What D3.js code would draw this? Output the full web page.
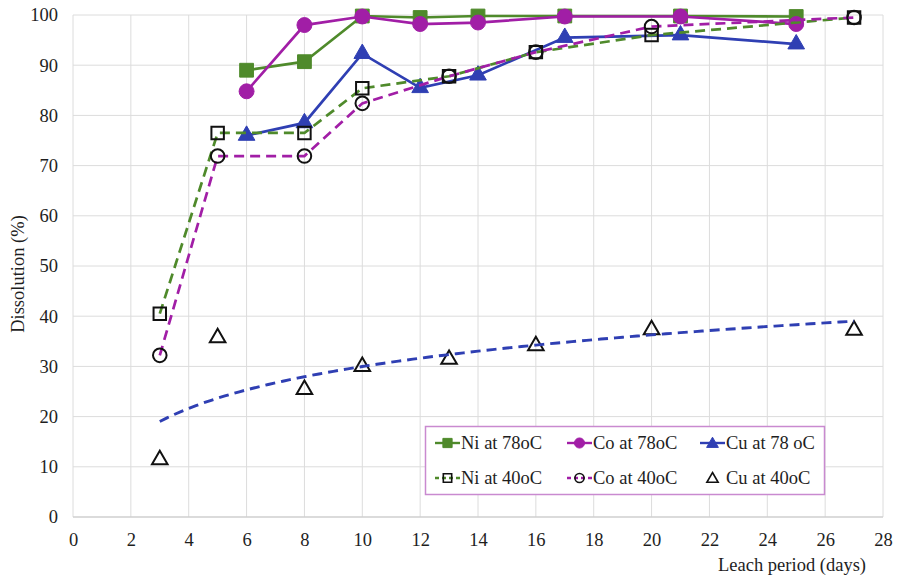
<!DOCTYPE html>
<html>
<head>
<meta charset="utf-8">
<script src="https://cdn.jsdelivr.net/npm/d3@7/dist/d3.min.js"></script>
<style>
  html, body { margin: 0; padding: 0; background: #fff; }
  svg text { font-family: "Liberation Serif", "Times New Roman", serif; fill: #1e1e1e; }
</style>
</head>
<body>
<svg id="chart" width="898" height="577"></svg>
<script>
// Leach period (days) for each series
const daysNi78 = [6, 8, 10, 12, 14, 17, 21, 25];
const daysCo78 = [6, 8, 10, 12, 14, 17, 21, 25];
const daysCu78 = [6, 8, 10, 12, 14, 17, 21, 25];
const days40   = [3, 5, 8, 10, 13, 16, 20, 27];

// Dissolution (%)
const ni78 = [89.0, 90.7, 99.8, 99.5, 99.8, 99.8, 99.8, 99.7];
const co78 = [84.8, 98.0, 99.7, 98.2, 98.5, 99.7, 99.7, 98.2];
const cu78 = [76.0, 78.5, 92.3, 85.5, 88.0, 95.5, 96.0, 94.2];
const ni40 = [40.5, 76.5, 76.5, 85.4, 87.8, 92.6, 96.0, 99.5];
const co40 = [32.2, 71.9, 71.9, 82.4, 87.8, 92.6, 97.7, 99.5];
const cu40 = [11.4, 35.7, 25.4, 30.0, 31.4, 34.1, 37.3, 37.2];

const xTicks = d3.range(0, 29, 2);
const yTicks = d3.range(0, 101, 10);

const seriesNames = ["Ni at 78oC", "Co at 78oC", "Cu at 78 oC", "Ni at 40oC", "Co at 40oC", "Cu at 40oC"];

const GREEN = "#4f8a2b", MAGENTA = "#a11ea6", BLUE = "#2f3fb3";
const FONT = "18.5px";

const svg = d3.select("#chart");
const m = { left: 73, right: 15, top: 15, bottom: 60 };
const W = 898, H = 577;
const x = d3.scaleLinear().domain([0, 28]).range([m.left, W - m.right]);
const y = d3.scaleLinear().domain([0, 100]).range([H - m.bottom, m.top]);

// grid
const grid = svg.append("g");
grid.selectAll("line.v").data(xTicks).join("line")
  .attr("x1", d => x(d)).attr("x2", d => x(d))
  .attr("y1", y(0)).attr("y2", y(100))
  .attr("stroke", "#dcdcdc").attr("stroke-width", 1);
grid.selectAll("line.h").data(yTicks).join("line")
  .attr("x1", x(0)).attr("x2", x(28))
  .attr("y1", d => y(d)).attr("y2", d => y(d))
  .attr("stroke", d => d === 0 ? "#cfcfcf" : "#dcdcdc").attr("stroke-width", d => d === 0 ? 1.5 : 1);

// axes (labels only)
const xAxis = svg.append("g").attr("transform", `translate(0,${y(0)})`)
  .call(d3.axisBottom(x).tickValues(xTicks).tickSize(0).tickPadding(16));
const yAxis = svg.append("g").attr("transform", `translate(${x(0)},0)`)
  .call(d3.axisLeft(y).tickValues(yTicks).tickSize(0).tickPadding(15));
[xAxis, yAxis].forEach(a => {
  a.select(".domain").remove();
  a.selectAll("text").style("font-size", FONT).style("font-family", '"Liberation Serif", serif').attr("fill", "#1e1e1e");
});

svg.append("text")
  .attr("transform", `translate(24,${(y(0) + y(100)) / 2 + 8}) rotate(-90)`)
  .attr("text-anchor", "middle").style("font-size", FONT)
  .text("Dissolution (%)");
svg.append("text")
  .attr("x", 866).attr("y", 571).attr("text-anchor", "end").style("font-size", FONT)
  .text("Leach period (days)");

const pts = (xs, ys) => xs.map((d, i) => [d, ys[i]]);
const line = d3.line().x(d => x(d[0])).y(d => y(d[1]));

const sym = (type, size) => d3.symbol().type(type).size(size)();

function drawLine(data, color, dashed) {
  svg.append("path").datum(data).attr("d", line)
    .attr("fill", "none").attr("stroke", color).attr("stroke-width", 2.7)
    .attr("stroke-dasharray", dashed ? "10,6" : null);
}
function drawMarkers(data, type, size, fill, stroke, sw) {
  svg.append("g").selectAll("path").data(data).join("path")
    .attr("transform", d => `translate(${x(d[0])},${y(d[1])})`)
    .attr("d", sym(type, size))
    .attr("fill", fill).attr("stroke", stroke).attr("stroke-width", sw);
}

// 78 °C series
const dNi78 = pts(daysNi78, ni78), dCo78 = pts(daysCo78, co78), dCu78 = pts(daysCu78, cu78);
drawLine(dNi78, GREEN, false); drawMarkers(dNi78, d3.symbolSquare, 190, GREEN, GREEN, 1);
drawLine(dCo78, MAGENTA, false); drawMarkers(dCo78, d3.symbolCircle, 175, MAGENTA, MAGENTA, 1);
drawLine(dCu78, BLUE, false); drawMarkers(dCu78, d3.symbolTriangle, 120, BLUE, BLUE, 1);

// 40 °C series
const dNi40 = pts(days40, ni40), dCo40 = pts(days40, co40), dCu40 = pts(days40, cu40);
drawLine(dNi40, GREEN, true); drawMarkers(dNi40, d3.symbolSquare, 155, "none", "#111", 2);
drawLine(dCo40, MAGENTA, true); drawMarkers(dCo40, d3.symbolCircle, 145, "none", "#111", 2);
drawMarkers(dCu40, d3.symbolTriangle, 105, "none", "#111", 2);

// logarithmic trendline fitted to Cu at 40 °C
const lx = days40.map(Math.log), mx = d3.mean(lx), my = d3.mean(cu40);
const slope = d3.sum(lx.map((v, i) => (v - mx) * (cu40[i] - my))) / d3.sum(lx.map(v => (v - mx) ** 2));
const icpt = my - slope * mx;
const trend = d3.range(days40[0], days40[days40.length - 1] + 0.001, 0.25).map(t => [t, slope * Math.log(t) + icpt]);
svg.append("path").datum(trend).attr("d", line)
  .attr("fill", "none").attr("stroke", BLUE).attr("stroke-width", 2.9).attr("stroke-dasharray", "10,6");

// legend
const lg = svg.append("g");
lg.append("rect").attr("x", 425.5).attr("y", 426.5).attr("width", 399).attr("height", 68)
  .attr("fill", "#fff").attr("stroke", "#c98ad0").attr("stroke-width", 1.5);
const legendItems = [
  { name: seriesNames[0], color: GREEN, dash: null, type: d3.symbolSquare, size: 85, fill: GREEN, stroke: GREEN, sw: 1 },
  { name: seriesNames[1], color: MAGENTA, dash: null, type: d3.symbolCircle, size: 80, fill: MAGENTA, stroke: MAGENTA, sw: 1 },
  { name: seriesNames[2], color: BLUE, dash: null, type: d3.symbolTriangle, size: 60, fill: BLUE, stroke: BLUE, sw: 1 },
  { name: seriesNames[3], color: GREEN, dash: "4,3", type: d3.symbolSquare, size: 70, fill: "none", stroke: "#111", sw: 1.6 },
  { name: seriesNames[4], color: MAGENTA, dash: "4,3", type: d3.symbolCircle, size: 65, fill: "none", stroke: "#111", sw: 1.6 },
  { name: seriesNames[5], color: null, dash: null, type: d3.symbolTriangle, size: 55, fill: "none", stroke: "#111", sw: 1.6 }
];
const colX = [435, 567, 700];
const rowY = [443, 478];
legendItems.forEach((it, i) => {
  const cx = colX[i % 3], cy = rowY[Math.floor(i / 3)];
  const g = lg.append("g").attr("transform", `translate(${cx},${cy})`);
  if (it.color) {
    g.append("line").attr("x1", 0).attr("x2", 25).attr("y1", 0).attr("y2", 0)
      .attr("stroke", it.color).attr("stroke-width", 2.4).attr("stroke-dasharray", it.dash);
  }
  g.append("path").attr("transform", `translate(${12.5},${it.type === d3.symbolTriangle ? 1 : 0})`)
    .attr("d", sym(it.type, it.size)).attr("fill", it.fill).attr("stroke", it.stroke).attr("stroke-width", it.sw);
  g.append("text").attr("x", 26).attr("y", 6).style("font-size", FONT).text(it.name);
});
</script>
</body>
</html>
